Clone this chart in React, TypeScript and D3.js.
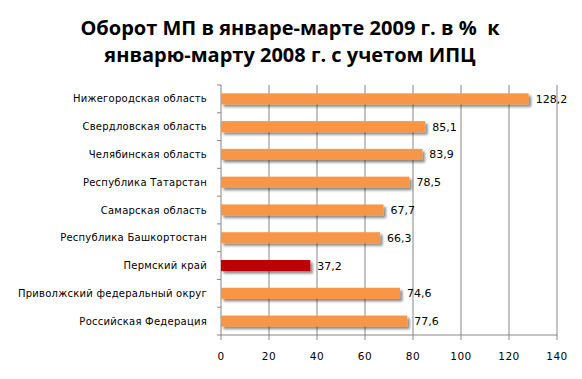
import React from "react";
import * as d3 from "d3";

const categories = [
  "Нижегородская область",
  "Свердловская область",
  "Челябинская область",
  "Республика Татарстан",
  "Самарская область",
  "Республика Башкортостан",
  "Пермский край",
  "Приволжский федеральный округ",
  "Российская Федерация",
];
const values = [128.2, 85.1, 83.9, 78.5, 67.7, 66.3, 37.2, 74.6, 77.6];
const highlighted = ["Пермский край"];
const xTicks = [0, 20, 40, 60, 80, 100, 120, 140];
const titleLines = ["Оборот МП в январе-марте 2009 г. в %  к", "январю-марту 2008 г. с учетом ИПЦ"];

const W = 582, H = 379;
const left = 221, right = 557, top = 85, bottom = 335;

export default function App() {
  const x = d3.scaleLinear().domain([0, 140]).range([left, right]);
  const y = d3.scaleBand<string>().domain(categories).range([top, bottom]).paddingInner(0.6).paddingOuter(0.3);
  const step = y.step();
  const fmt = (v: number) => v.toFixed(1).replace(".", ",");
  const grid = "#868686";
  return (
    <svg width={W} height={H} style={{ position: "absolute", left: 0, top: 0, background: "#fff" }}>
      <defs>
        <filter id="sh" x="-10%" y="-50%" width="130%" height="250%">
          <feDropShadow dx="2.5" dy="2.5" stdDeviation="1.3" floodColor="#000" floodOpacity="0.45" />
        </filter>
      </defs>
      <g fontFamily="'Open Sans', sans-serif" fontWeight="bold" fontSize="20" textAnchor="middle" fill="#000">
        {titleLines.map((t, i) => (
          <text key={i} x={290} y={35 + i * 27} style={{ whiteSpace: "pre" }}>{t}</text>
        ))}
      </g>
      {xTicks.slice(1).map((t) => (
        <line key={t} x1={x(t)} x2={x(t)} y1={top} y2={bottom} stroke={grid} strokeWidth={1} />
      ))}
      <line x1={left} x2={left} y1={top} y2={bottom} stroke={grid} />
      <line x1={left} x2={right} y1={bottom} y2={bottom} stroke={grid} />
      {d3.range(categories.length + 1).map((i) => (
        <line key={i} x1={left - 4} x2={left} y1={top + i * step} y2={top + i * step} stroke={grid} />
      ))}
      {xTicks.map((t) => (
        <line key={t} x1={x(t)} x2={x(t)} y1={bottom} y2={bottom + 5} stroke={grid} />
      ))}
      {categories.map((c, i) => (
        <rect key={c} x={x(0)} y={y(c)!} width={x(values[i]) - x(0)} height={y.bandwidth()}
          fill={highlighted.includes(c) ? "#C00000" : "#F79646"} filter="url(#sh)" />
      ))}
      <g fontFamily="'DejaVu Sans', sans-serif" fontSize="10" fill="#000" textAnchor="end">
        {categories.map((c) => (
          <text key={c} x={207} y={y(c)! + y.bandwidth() / 2 + 3.5} letterSpacing="0.25">{c}</text>
        ))}
      </g>
      <g fontFamily="'DejaVu Sans', sans-serif" fontSize="11" fill="#000">
        {categories.map((c, i) => (
          <text key={c} x={x(values[i]) + 7} y={y(c)! + y.bandwidth() / 2 + 4}>{fmt(values[i])}</text>
        ))}
      </g>
      <g fontFamily="'DejaVu Sans', sans-serif" fontSize="10.5" fill="#000" textAnchor="middle">
        {xTicks.map((t) => (
          <text key={t} x={x(t)} y={360} letterSpacing="0.5">{t}</text>
        ))}
      </g>
    </svg>
  );
}
